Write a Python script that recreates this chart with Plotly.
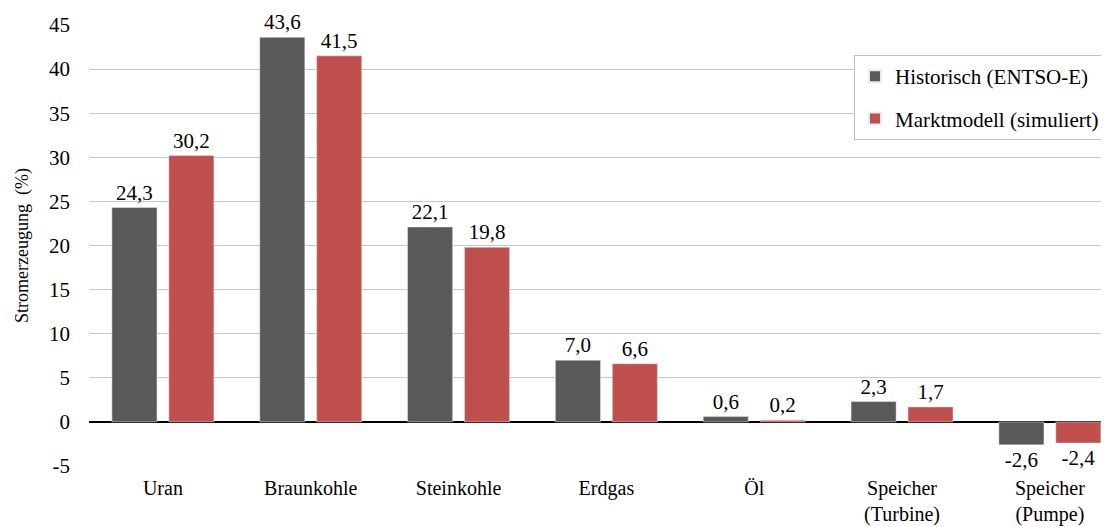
import plotly.graph_objects as go

categories = ["Uran", "Braunkohle", "Steinkohle", "Erdgas", "Öl", "Speicher<br>(Turbine)", "Speicher<br>(Pumpe)"]
historisch = [24.3, 43.6, 22.1, 7.0, 0.6, 2.3, -2.6]
marktmodell = [30.2, 41.5, 19.8, 6.6, 0.2, 1.7, -2.4]
y_ticks = [-5, 0, 5, 10, 15, 20, 25, 30, 35, 40, 45]

def fmt(v):
    return f"{v:.1f}".replace(".", ",")

FONT = "Liberation Serif, Times New Roman, serif"
FS = 21

fig = go.Figure()
fig.add_trace(go.Bar(
    x=list(range(len(categories))), y=historisch, name="Historisch (ENTSO-E)",
    legendgroup="a",
    marker_color="#595959", width=0.305, offset=-0.345,
    text=[fmt(v) for v in historisch], textposition="outside", constraintext="none",
    textfont=dict(family=FONT, size=FS, color="#000"), cliponaxis=False,
))
fig.add_trace(go.Bar(
    x=list(range(len(categories))), y=marktmodell, name="Marktmodell (simuliert)",
    legendgroup="b",
    marker_color="#C0504D", width=0.305, offset=0.04,
    text=[fmt(v) for v in marktmodell], textposition="outside", constraintext="none",
    textfont=dict(family=FONT, size=FS, color="#000"), cliponaxis=False,
))

# page body has an 8px margin, so the figure is offset by 8px
fig.update_layout(
    width=1101, height=519,
    margin=dict(l=81, r=0, t=17, b=61),
    paper_bgcolor="white", plot_bgcolor="white",
    barmode="overlay",
    font=dict(family=FONT, size=FS, color="#000"),
    showlegend=True,
    legend=dict(
        x=(846 - 81) / 1020, y=0.932, xanchor="left", yanchor="top",
        bgcolor="white", bordercolor="#bfbfbf", borderwidth=1,
        font=dict(family=FONT, size=FS, color="#000"),
        itemsizing="constant", tracegroupgap=12,
    ),
)
fig.update_xaxes(
    tickmode="array", tickvals=list(range(len(categories))), ticktext=categories,
    range=[-0.5, 6.4], showgrid=False, showline=False, ticks="",
    automargin=False, ticklabelstandoff=8,
    tickfont=dict(family=FONT, size=20, color="#000"),
)
fig.update_yaxes(
    range=[-5, 45], tickmode="array", tickvals=y_ticks,
    ticktext=[str(t) for t in y_ticks],
    showgrid=True, gridcolor="#c8c8c8", gridwidth=1,
    zeroline=True, zerolinecolor="#000", zerolinewidth=1.5,
    showline=False, ticks="", ticklen=0,
    automargin=False, ticklabelstandoff=18,
    tickfont=dict(family=FONT, size=FS, color="#000"),
    title=dict(text="Stromerzeugung  (%)", font=dict(family=FONT, size=18, color="#000"), standoff=15),
)

fig.write_html("out.html")
